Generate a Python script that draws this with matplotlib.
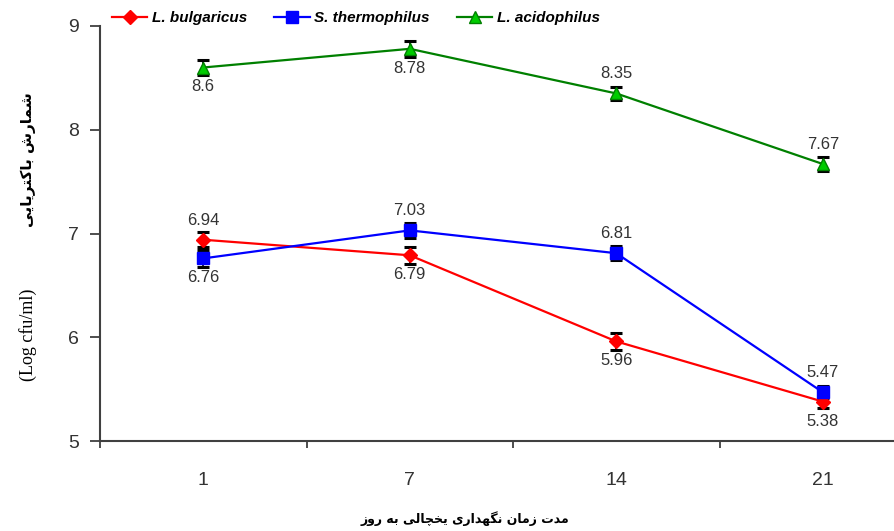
import matplotlib
matplotlib.use('Agg')
import matplotlib.pyplot as plt

# Data
days = ['1', '7', '14', '21']
bulgaricus = [6.94, 6.79, 5.96, 5.38]
thermophilus = [6.76, 7.03, 6.81, 5.47]
acidophilus = [8.6, 8.78, 8.35, 7.67]
bulgaricus_err = [0.07, 0.08, 0.08, 0.06]
thermophilus_err = [0.08, 0.07, 0.07, 0.06]
acidophilus_err = [0.07, 0.08, 0.06, 0.07]

xlabel_fa = 'مدت زمان نگهداری یخچالی به روز'
ylabel_fa = 'شمارش باکتریایی'
ylabel_en = '(Log cfu/ml)'

# minimal Persian shaping (matplotlib has no shaping / bidi)
FORMS = {
    'ا': ('\uFE8D', '\uFE8E', None, None),
    'د': ('\uFEA9', '\uFEAA', None, None),
    'ر': ('\uFEAD', '\uFEAE', None, None),
    'ز': ('\uFEAF', '\uFEB0', None, None),
    'و': ('\uFEED', '\uFEEE', None, None),
    'ب': ('\uFE8F', '\uFE90', '\uFE91', '\uFE92'),
    'ت': ('\uFE95', '\uFE96', '\uFE97', '\uFE98'),
    'خ': ('\uFEA5', '\uFEA6', '\uFEA7', '\uFEA8'),
    'ش': ('\uFEB5', '\uFEB6', '\uFEB7', '\uFEB8'),
    'ل': ('\uFEDD', '\uFEDE', '\uFEDF', '\uFEE0'),
    'م': ('\uFEE1', '\uFEE2', '\uFEE3', '\uFEE4'),
    'ن': ('\uFEE5', '\uFEE6', '\uFEE7', '\uFEE8'),
    'ه': ('\uFEE9', '\uFEEA', '\uFEEB', '\uFEEC'),
    'چ': ('\uFB7A', '\uFB7B', '\uFB7C', '\uFB7D'),
    'ک': ('\uFB8E', '\uFB8F', '\uFB90', '\uFB91'),
    'گ': ('\uFB92', '\uFB93', '\uFB94', '\uFB95'),
    'ی': ('\uFBFC', '\uFBFD', '\uFBFE', '\uFBFF'),
}


def shape(text):
    out = []
    for i, ch in enumerate(text):
        if ch not in FORMS:
            out.append(ch)
            continue
        prev = text[i - 1] if i > 0 else ''
        nxt = text[i + 1] if i + 1 < len(text) else ''
        join_prev = prev in FORMS and FORMS[prev][2] is not None
        join_next = nxt in FORMS and FORMS[ch][2] is not None
        iso, fin, ini, med = FORMS[ch]
        if join_prev and join_next:
            out.append(med)
        elif join_prev:
            out.append(fin)
        elif join_next:
            out.append(ini)
        else:
            out.append(iso)
    return ''.join(reversed(out))


plt.rcParams['font.family'] = ['Liberation Sans', 'DejaVu Sans']

fig = plt.figure(figsize=(8.95, 5.31), dpi=100)
ax = fig.add_axes([100 / 895, 90 / 531, 826 / 895, 415 / 531])

x = list(range(len(days)))
series = [
    ('L. bulgaricus', bulgaricus, bulgaricus_err, '#ff0000', 'D', 7, '#ff0000'),
    ('S. thermophilus', thermophilus, thermophilus_err, '#0000ff', 's', 9, '#0000ff'),
    ('L. acidophilus', acidophilus, acidophilus_err, '#008000', '^', 9, '#00cc00'),
]
# label above (+1) or below (-1) each point
label_side = {
    'L. bulgaricus': [1, -1, -1, -1],
    'S. thermophilus': [-1, 1, 1, 1],
    'L. acidophilus': [-1, -1, 1, 1],
}

for name, vals, errs, col, mk, ms, face in series:
    ax.errorbar(x, vals, yerr=errs, fmt='none', ecolor='black', elinewidth=1.2,
                capsize=4, capthick=2.2, zorder=3)
    ax.plot(x, vals, color=col, lw=1.6, marker=mk, ms=ms, mfc=face, mec=col,
            label=name, zorder=4)
    for xi, v, s in zip(x, vals, label_side[name]):
        ax.annotate(f'{v:g}', (xi, v), xytext=(0, 14 * s), textcoords='offset points',
                    ha='center', va='center', fontsize=12, color='#333333')

ax.set_xlim(-0.5, 3.5)
ax.set_ylim(5, 9)
ax.set_yticks([5, 6, 7, 8, 9])
ax.set_xticks(x)
ax.set_xticklabels(days)
ax.set_xticks([-0.5, 0.5, 1.5, 2.5, 3.5], minor=True)
ax.tick_params(axis='x', which='major', length=0, pad=22, labelsize=14, labelcolor='#333333')
ax.tick_params(axis='x', which='minor', length=5, width=1.3, color='#404040', direction='out')
ax.tick_params(axis='y', length=7, width=1.3, color='#404040', labelsize=14,
               labelcolor='#333333', pad=8)
for side in ['top', 'right']:
    ax.spines[side].set_visible(False)
for side in ['left', 'bottom']:
    ax.spines[side].set_color('#404040')
    ax.spines[side].set_linewidth(1.5)

fig.legend(loc='center left', bbox_to_anchor=(112 / 895, 1 - 18 / 531), ncol=3,
           frameon=False, prop={'style': 'italic', 'weight': 'bold', 'size': 11},
           handlelength=2.3, handletextpad=0.3, columnspacing=1.8,
           borderpad=0, borderaxespad=0)

fig.text(465 / 895, 1 - 519 / 531, shape(xlabel_fa), ha='center', va='center',
         fontsize=9, fontweight='bold', family=['DejaVu Sans'])
fig.text(28 / 895, 1 - 160 / 531, shape(ylabel_fa), ha='center', va='center',
         rotation=90, fontsize=11, fontweight='bold', family=['DejaVu Sans'])
fig.text(28 / 895, 1 - 335 / 531, ylabel_en, ha='center', va='center',
         rotation=90, fontsize=13, family=['Liberation Serif'])

fig.savefig('out.png', dpi=100)
